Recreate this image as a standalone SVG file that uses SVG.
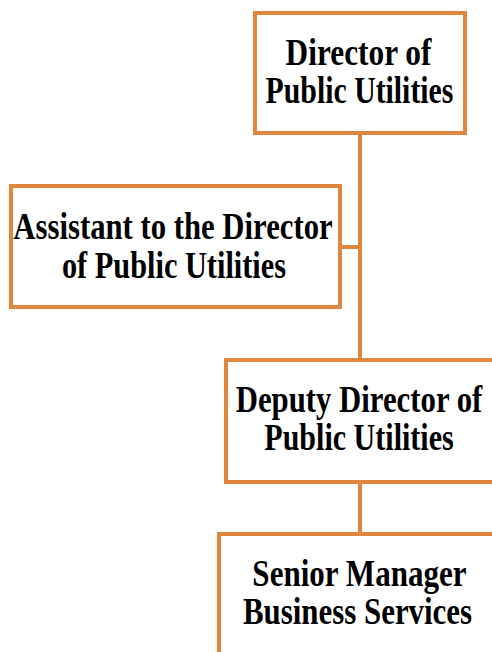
<svg xmlns="http://www.w3.org/2000/svg" width="492" height="652" viewBox="0 0 492 652">
<style>
.box{fill:#fff;stroke:#E0873F;stroke-width:4}
.con{fill:none;stroke:#E0873F;stroke-width:4}
.t{font-family:"Liberation Serif","Times New Roman",serif;font-weight:bold;font-size:37px;fill:#000;text-anchor:middle}
</style>
<rect width="492" height="652" fill="#fff"/>
<g id="connectors">
<path class="con" d="M360 133V360M340 247H360M360 482V534"/>
</g>
<g id="director">
<rect class="box" x="255" y="13" width="210" height="120"/>
<text class="t" transform="translate(358.5,64.5) scale(0.847,1)">Director of</text>
<text class="t" transform="translate(359.5,102.7) scale(0.805,1)">Public Utilities</text>
</g>
<g id="assistant">
<rect class="box" x="11" y="186" width="329" height="121"/>
<text class="t" transform="translate(173,239) scale(0.830,1)">Assistant to the Director</text>
<text class="t" transform="translate(174,278) scale(0.82,1)">of Public Utilities</text>
</g>
<g id="deputy">
<rect class="box" x="226" y="360" width="268" height="122"/>
<text class="t" transform="translate(359,412) scale(0.832,1)">Deputy Director of</text>
<text class="t" transform="translate(359,450) scale(0.812,1)">Public Utilities</text>
</g>
<g id="senior">
<rect class="box" x="219" y="534" width="282" height="130"/>
<text class="t" transform="translate(359.5,585.5) scale(0.840,1)">Senior Manager</text>
<text class="t" transform="translate(357.5,624) scale(0.835,1)">Business Services</text>
</g>
</svg>
